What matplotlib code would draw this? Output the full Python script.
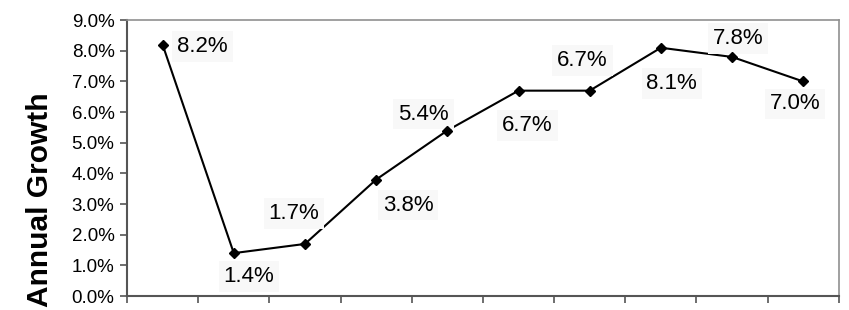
import numpy as np
import matplotlib.pyplot as plt
from matplotlib.ticker import FuncFormatter, MultipleLocator

plt.rcParams['font.family'] = ['Liberation Sans', 'DejaVu Sans']

# annual growth (%) per period
growth = [8.2, 1.4, 1.7, 3.8, 5.4, 6.7, 6.7, 8.1, 7.8, 7.0]
# label offsets (pixels) from each point
label_dx = [40, 15, -11, 32, -24, 9, -7, 11, 6, -8]
label_dy = [1, -21, 33, -23, 19, -32, 33, -33, 21, -20]

x = np.arange(len(growth))

fig = plt.figure(figsize=(8.49, 3.10), dpi=100)
ax = fig.add_axes([0.1496, 0.045, 0.8384, 0.89])

ax.plot(x, growth, color='black', lw=1.5, zorder=2)
ax.plot(x, growth, ls='none', marker='D', ms=5.5, mec='black', mfc='black', zorder=4)

for xi, v, dx, dy in zip(x, growth, label_dx, label_dy):
    ax.annotate(f'{v:.1f}%', (xi, v), xytext=(dx, dy), textcoords='offset pixels',
                ha='center', va='center_baseline', fontsize=16, zorder=3,
                bbox=dict(boxstyle='square,pad=0.22', fc='#f8f8f8', ec='none'))

ax.set_xlim(-0.5, len(growth) - 0.5)
ax.set_ylim(0, 9)
ax.yaxis.set_major_locator(MultipleLocator(1))
ax.yaxis.set_major_formatter(FuncFormatter(lambda v, p: f'{v:.1f}%'))
ax.set_xticks(np.arange(len(growth) + 1) - 0.5)
ax.set_xticklabels([])
ax.tick_params(axis='both', direction='out', length=5, color='#555555', width=1.2)
ax.tick_params(axis='y', labelsize=13.5, pad=4)

for s in ['left', 'bottom']:
    ax.spines[s].set_color('#555555')
    ax.spines[s].set_linewidth(1.5)
for s in ['top', 'right']:
    ax.spines[s].set_color('#909090')
    ax.spines[s].set_linewidth(1.2)

fig.text(40 / 849, 1 - 200 / 310, 'Annual Growth', rotation=90, ha='center', va='center',
         fontsize=21.5, fontweight='bold')

fig.savefig('out.png', dpi=100)
